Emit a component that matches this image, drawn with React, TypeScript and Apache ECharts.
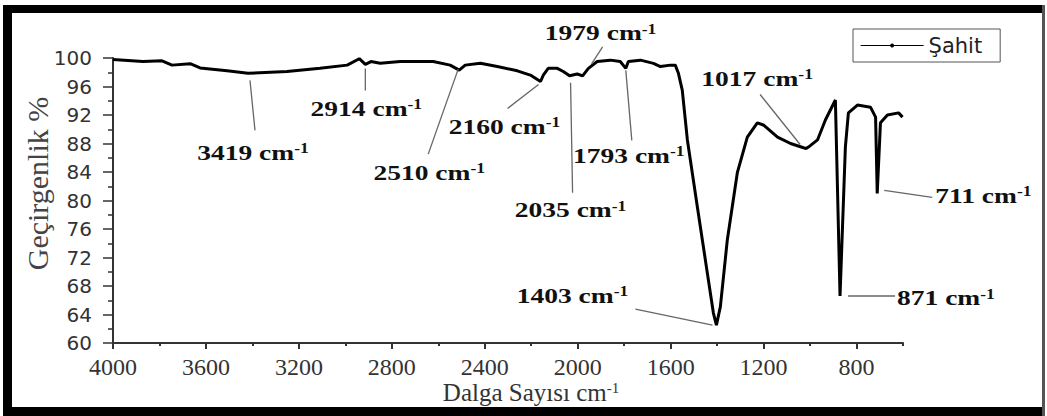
import React, { useEffect, useRef } from "react";
import * as echarts from "echarts";

// FTIR spectrum of the control sample (wavenumber in cm-1, transmittance in %)
const waves = [
  4000, 3871, 3789, 3746, 3668, 3625, 3509, 3419, 3251, 3109, 2992, 2940, 2914, 2890, 2850, 2764,
  2622, 2549, 2510, 2484, 2419, 2346, 2260, 2204, 2160, 2148, 2127, 2088, 2062, 2035, 2002, 1979,
  1954, 1916, 1860, 1817, 1793, 1782, 1730, 1674, 1644, 1601, 1580, 1567, 1550, 1528, 1485, 1442,
  1416, 1403, 1386, 1356, 1313, 1270, 1227, 1201, 1140, 1084, 1028, 1017, 1007, 968, 934, 891,
  871, 848, 835, 796, 740, 718, 711, 697, 667, 619, 602,
];
const trans = [
  99.8, 99.5, 99.6, 99.0, 99.2, 98.6, 98.2, 97.85, 98.1, 98.55, 99.0, 99.9, 99.1, 99.5, 99.25, 99.5,
  99.5, 99.0, 98.3, 99.0, 99.25, 98.8, 98.2, 97.6, 96.7, 97.6, 98.55, 98.55, 98.1, 97.5, 97.75, 97.5,
  98.55, 99.5, 99.7, 99.5, 98.55, 99.5, 99.7, 99.25, 98.8, 99.0, 99.0, 97.9, 95.5, 88.5, 79.1, 69.8,
  64.2, 62.5, 65.1, 74.5, 83.9, 88.9, 90.9, 90.6, 88.9, 88.0, 87.4, 87.3, 87.5, 88.5, 91.3, 94.1,
  66.6, 87.5, 92.3, 93.4, 93.1, 91.7, 81.0, 90.9, 92.0, 92.3, 91.7,
];
const seriesName = "Şahit";

// Axis ticks
const xTicks = [4000, 3600, 3200, 2800, 2400, 2000, 1600, 1200, 800];
const xMinorTicks = [3800, 3400, 3000, 2600, 2200, 1800, 1400, 1000, 600];

// Annotated bands (cm-1)
const peakWaves = [3419, 2914, 2510, 2160, 2035, 1979, 1793, 1017, 711, 871, 1403];

// Leader line ends (a, b) and label position (t), in px relative to the band point on the curve
const peakLayout: Record<number, { a: number[]; b: number[]; t: number[]; align: string }> = {
  3419: { a: [2, 7], b: [7, 57], t: [5, 79], align: "center" },
  2914: { a: [0, 4], b: [0, 26], t: [1, 44], align: "center" },
  2510: { a: [-1, -1], b: [-31, 84], t: [-30, 102], align: "center" },
  2160: { a: [-2, 3], b: [-33, 27], t: [-36, 45], align: "center" },
  2035: { a: [1, 7], b: [3, 117], t: [1, 134], align: "center" },
  1979: { a: [9, -12], b: [20, -29], t: [18, -43], align: "center" },
  1793: { a: [0, 2], b: [6, 72], t: [3, 87], align: "center" },
  1017: { a: [-6, -4], b: [-46, -54], t: [-49, -70], align: "center" },
  711: { a: [7, -3], b: [55, 4], t: [58, 2], align: "left" },
  871: { a: [8, 0], b: [55, 0], t: [57, 2], align: "left" },
  1403: { a: [-4, 0], b: [-81, -16], t: [-144, -30], align: "center" },
};

function valueAt(w: number): number {
  for (let i = 0; i < waves.length - 1; i++) {
    const w0 = waves[i];
    const w1 = waves[i + 1];
    if (w <= w0 && w >= w1) {
      const f = w0 === w1 ? 0 : (w0 - w) / (w0 - w1);
      return trans[i] + (trans[i + 1] - trans[i]) * f;
    }
  }
  return trans[trans.length - 1];
}

const serif = "Liberation Serif";
const sans = "DejaVu Sans";

export default function App() {
  const ref = useRef<HTMLDivElement>(null);

  useEffect(() => {
    if (!ref.current) return;
    const chart = echarts.init(ref.current, null, { renderer: "svg" });

    const data = waves.map((w, i) => [w, trans[i]]);

    chart.setOption({
      animation: false,
      backgroundColor: "#ffffff",
      grid: { left: 113, right: 144, top: 58, bottom: 73 },
      legend: {
        data: [seriesName],
        left: 853,
        top: 29,
        padding: [6, 18, 6, 7],
        borderColor: "#555",
        borderWidth: 1,
        itemWidth: 63,
        itemHeight: 5,
        lineStyle: { width: 1.2 },
        textStyle: { fontFamily: sans, fontSize: 21, color: "#222" },
      },
      xAxis: [
        {
          type: "value",
          inverse: true,
          min: 600,
          max: 4000,
          interval: 200,
          position: "bottom",
          name: "{n|Dalga Sayısı cm}{s|-1}",
          nameLocation: "middle",
          nameGap: 37,
          nameMoveOverlap: false,
          nameTextStyle: {
            padding: [0, 0, 0, 46],
            rich: {
              n: { fontFamily: serif, fontSize: 25, color: "#333" },
              s: { fontFamily: serif, fontSize: 15, color: "#333", verticalAlign: "top" },
            },
          },
          axisLine: { lineStyle: { color: "#333", width: 2 } },
          axisTick: { customValues: xTicks, length: 6, lineStyle: { color: "#333", width: 2 } },
          axisLabel: {
            margin: 12,
            fontFamily: serif,
            fontSize: 24,
            color: "#333",
            formatter: (v: number) => (xTicks.includes(v) ? String(v) : ""),
          },
          splitLine: { show: false },
        },
        {
          type: "value",
          inverse: true,
          min: 600,
          max: 4000,
          position: "bottom",
          axisLine: { show: false },
          axisTick: { customValues: xMinorTicks, length: 3, lineStyle: { color: "#333", width: 2 } },
          axisLabel: { show: false },
          splitLine: { show: false },
        },
      ],
      yAxis: {
        type: "value",
        min: 60,
        max: 100,
        interval: 4,
        name: "Geçirgenlik %",
        nameLocation: "middle",
        nameRotate: 90,
        nameGap: 61,
        nameMoveOverlap: false,
        nameTextStyle: { fontFamily: serif, fontSize: 30, color: "#444", padding: [0, 0, 0, 34] },
        axisLine: { show: true, lineStyle: { color: "#333", width: 2 } },
        axisTick: { show: true, length: 10, lineStyle: { color: "#333", width: 1.5 } },
        minorTick: { show: true, splitNumber: 2, length: 5, lineStyle: { color: "#333", width: 1.5 } },
        axisLabel: { margin: 21, fontFamily: sans, fontSize: 20, color: "#333" },
        splitLine: { show: false },
      },
      series: [
        {
          name: seriesName,
          type: "line",
          data,
          symbol: "circle",
          symbolSize: 4,
          showSymbol: false,
          lineStyle: { color: "#000", width: 3 },
          itemStyle: { color: "#000" },
          z: 3,
        },
      ],
    });

    const toPx = (w: number, v: number) =>
      chart.convertToPixel({ xAxisIndex: 0, yAxisIndex: 0 }, [w, v]) as number[];

    const annotations: any[] = [];
    peakWaves.forEach((w) => {
      const lay = peakLayout[w];
      const p = toPx(w, valueAt(w));
      annotations.push({
        type: "line",
        silent: true,
        z: 10,
        shape: {
          x1: p[0] + lay.a[0],
          y1: p[1] + lay.a[1],
          x2: p[0] + lay.b[0],
          y2: p[1] + lay.b[1],
        },
        style: { stroke: "#666", lineWidth: 1.3 },
      });
      annotations.push({
        type: "text",
        silent: true,
        z: 11,
        x: p[0] + lay.t[0],
        y: p[1] + lay.t[1],
        scaleX: 1.25,
        style: {
          text: `{n|${w} cm}{s|-1}`,
          align: lay.align,
          verticalAlign: "middle",
          textAlign: lay.align,
          textVerticalAlign: "middle",
          rich: {
            n: { fontFamily: serif, fontSize: 22, fontWeight: "bold", fill: "#111", color: "#111" },
            s: {
              fontFamily: serif,
              fontSize: 14,
              fontWeight: "bold",
              fill: "#111",
              color: "#111",
              verticalAlign: "top",
            },
          },
        },
      });
    });

    // Black picture frame
    const frame = [
      { x: 3, y: 5, width: 1041, height: 8, fill: "#000" },
      { x: 3, y: 5, width: 9, height: 411, fill: "#000" },
      { x: 3, y: 407, width: 1041, height: 9, fill: "#000" },
      { x: 1042, y: 5, width: 3, height: 411, fill: "#555" },
    ].map((r) => ({
      type: "rect",
      silent: true,
      z: 100,
      shape: { x: r.x, y: r.y, width: r.width, height: r.height },
      style: { fill: r.fill },
    }));

    chart.setOption({ graphic: [...annotations, ...frame] });

    return () => {
      chart.dispose();
    };
  }, []);

  return (
    <div
      ref={ref}
      style={{ position: "fixed", left: 0, top: 0, width: 1047, height: 416, background: "#fff" }}
    />
  );
}
